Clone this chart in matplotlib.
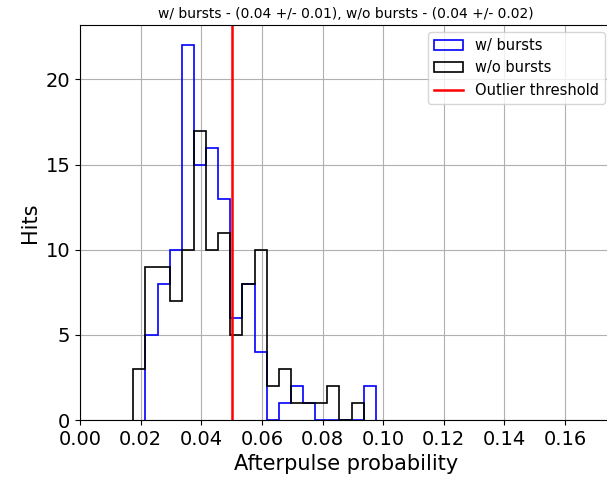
import numpy as np
import matplotlib
matplotlib.use('Agg')
import matplotlib.pyplot as plt

# histogram counts, bin width 0.004
bin_width = 0.004
edges_bursts_start = 0.0216
counts_bursts = [5, 8, 10, 22, 15, 16, 13, 6, 8, 4, 0, 1, 2, 1, 0, 0, 0, 0, 2]
edges_nobursts_start = 0.0176
counts_nobursts = [3, 9, 9, 7, 10, 17, 10, 11, 5, 8, 10, 2, 3, 1, 1, 1, 2, 0, 1]
threshold = 0.05

title = "w/ bursts - (0.04 +/- 0.01), w/o bursts - (0.04 +/- 0.02)"
legend_order = ['w/ bursts', 'w/o bursts', 'Outlier threshold']

edges_b = edges_bursts_start + bin_width * np.arange(len(counts_bursts) + 1)
edges_n = edges_nobursts_start + bin_width * np.arange(len(counts_nobursts) + 1)

fig = plt.figure(figsize=(6.07, 4.82), dpi=100)
ax = fig.add_axes([80 / 607, 62 / 482, 532 / 607, 395 / 482])

ax.hist(edges_b[:-1], bins=edges_b, weights=counts_bursts, histtype='step',
        color='blue', linewidth=1.2, label='w/ bursts')
ax.hist(edges_n[:-1], bins=edges_n, weights=counts_nobursts, histtype='step',
        color='black', linewidth=1.2, label='w/o bursts')
ax.axvline(threshold, color='red', linewidth=1.8, label='Outlier threshold')

ax.set_xlim(0, 0.1755)
ax.set_ylim(0, 23.2)
ax.set_xticks(np.arange(0, 0.17, 0.02))
ax.set_yticks([0, 5, 10, 15, 20])
ax.grid(True, color='#b0b0b0', linewidth=0.8)
ax.set_axisbelow(True)
ax.tick_params(labelsize=14)
ax.set_xlabel('Afterpulse probability', fontsize=15)
ax.set_ylabel('Hits', fontsize=15)
ax.set_title(title, fontsize=10, pad=5)

handles, labels = ax.get_legend_handles_labels()
lookup = dict(zip(labels, handles))
ax.legend([lookup[l] for l in legend_order], legend_order,
          loc='upper right', fontsize=10.5)

fig.savefig('out.png', dpi=100)
